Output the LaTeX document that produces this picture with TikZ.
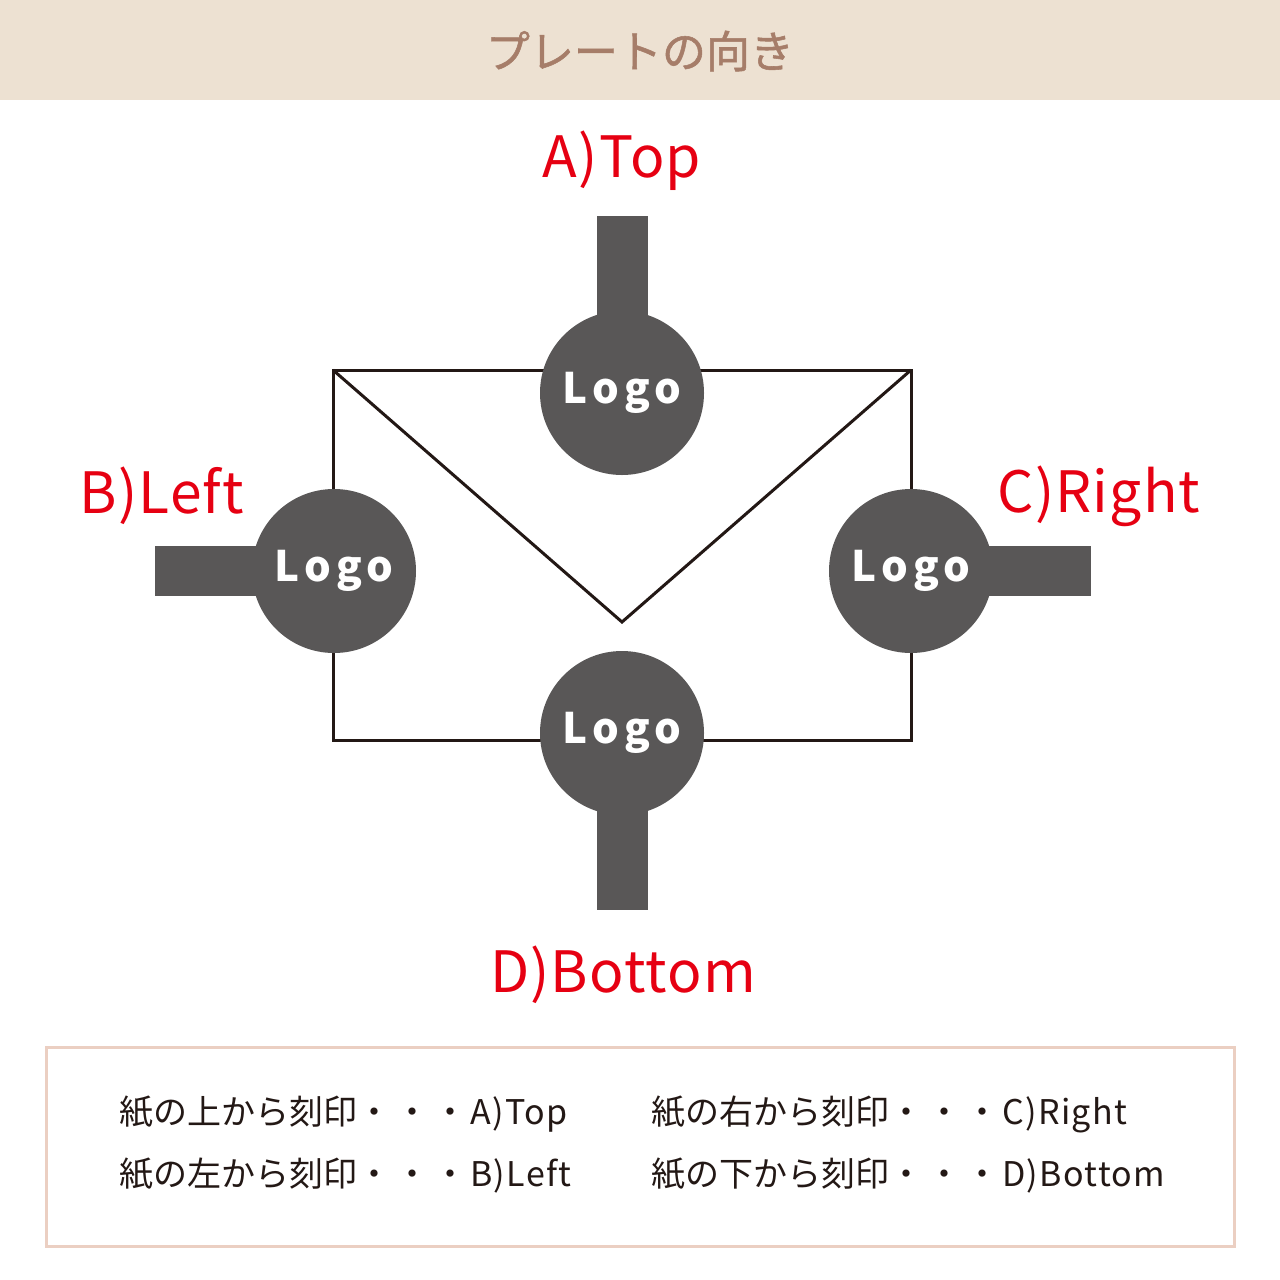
\documentclass[tikz,border=0pt]{standalone}
\usepackage{fontspec}
\setmainfont{Noto Sans CJK JP}
\definecolor{band}{HTML}{EDE1D2}
\definecolor{titlec}{HTML}{A67D69}
\definecolor{redc}{HTML}{E60012}
\definecolor{greyc}{HTML}{595757}
\definecolor{linec}{HTML}{231815}
\definecolor{boxc}{HTML}{EBCFC2}
\definecolor{txtc}{HTML}{231815}
\newcommand{\mydots}{・\kern4pt・\kern4pt・\kern3pt}
\newcommand{\lat}[1]{{\addfontfeature{LetterSpace=4}#1}}
\tikzset{
  logo/.style={circle, fill=greyc, minimum size=164pt, inner sep=0pt, text=white,
    font=\fontsize{42}{42}\selectfont\bfseries\addfontfeature{LetterSpace=13}},
  lbl/.style={text=redc, font=\fontsize{57}{57}\selectfont\addfontfeature{LetterSpace=2}, inner sep=0pt},
  note/.style={text=txtc, anchor=west, inner sep=0pt, font=\fontsize{34}{34}\selectfont},
  stem/.style={fill=greyc, draw=none},
  paper/.style={draw=linec, line width=3pt, line join=miter}
}
\begin{document}
\begin{tikzpicture}[x=1pt,y=-1pt]
\useasboundingbox (0,0) rectangle (1280,1280);
\fill[white] (0,0) rectangle (1280,1280);
% header
\fill[band] (0,0) rectangle (1280,100);
\node[text=titlec, font=\fontsize{44}{44}\selectfont\addfontfeature{FakeBold=1.2}, inner sep=0pt] (title) at (640,51) {プレートの向き};
% paper
\coordinate (tl) at (333,370);
\coordinate (tr) at (911,370);
\coordinate (br) at (911,740);
\coordinate (bl) at (333,740);
\coordinate (vm) at (622,622);
\draw[paper] (tl) -- (tr) -- (br) -- (bl) -- cycle;
\draw[paper] (tl) -- (vm) -- (tr);
% stems
\fill[stem] (597,216) rectangle (648,330);
\fill[stem] (155,546) rectangle (280,596);
\fill[stem] (970,546) rectangle (1091,596);
\fill[stem] (597,800) rectangle (648,910);
% logos
\node[logo] (lt) at (622,393) {Logo};
\node[logo] (ll) at (334,571) {Logo};
\node[logo] (lr) at (911,571) {Logo};
\node[logo] (lb) at (622,733) {Logo};
% labels
\node[lbl] (la) at (622,161) {A)Top};
\node[lbl] (lbL) at (162,496) {B)Left};
\node[lbl] (lc) at (1099,496) {C)Right};
\node[lbl] (ld) at (623,975) {D)Bottom};
% legend box
\draw[boxc, line width=3pt] (46,1047) rectangle (1234,1246);
\node[note] (n1) at (119,1114) {紙の上から刻印\mydots\lat{A)Top}};
\node[note] (n2) at (119,1176) {紙の左から刻印\mydots\lat{B)Left}};
\node[note] (n3) at (651,1114) {紙の右から刻印\mydots\lat{C)Right}};
\node[note] (n4) at (651,1176) {紙の下から刻印\mydots\lat{D)Bottom}};
\end{tikzpicture}
\end{document}
